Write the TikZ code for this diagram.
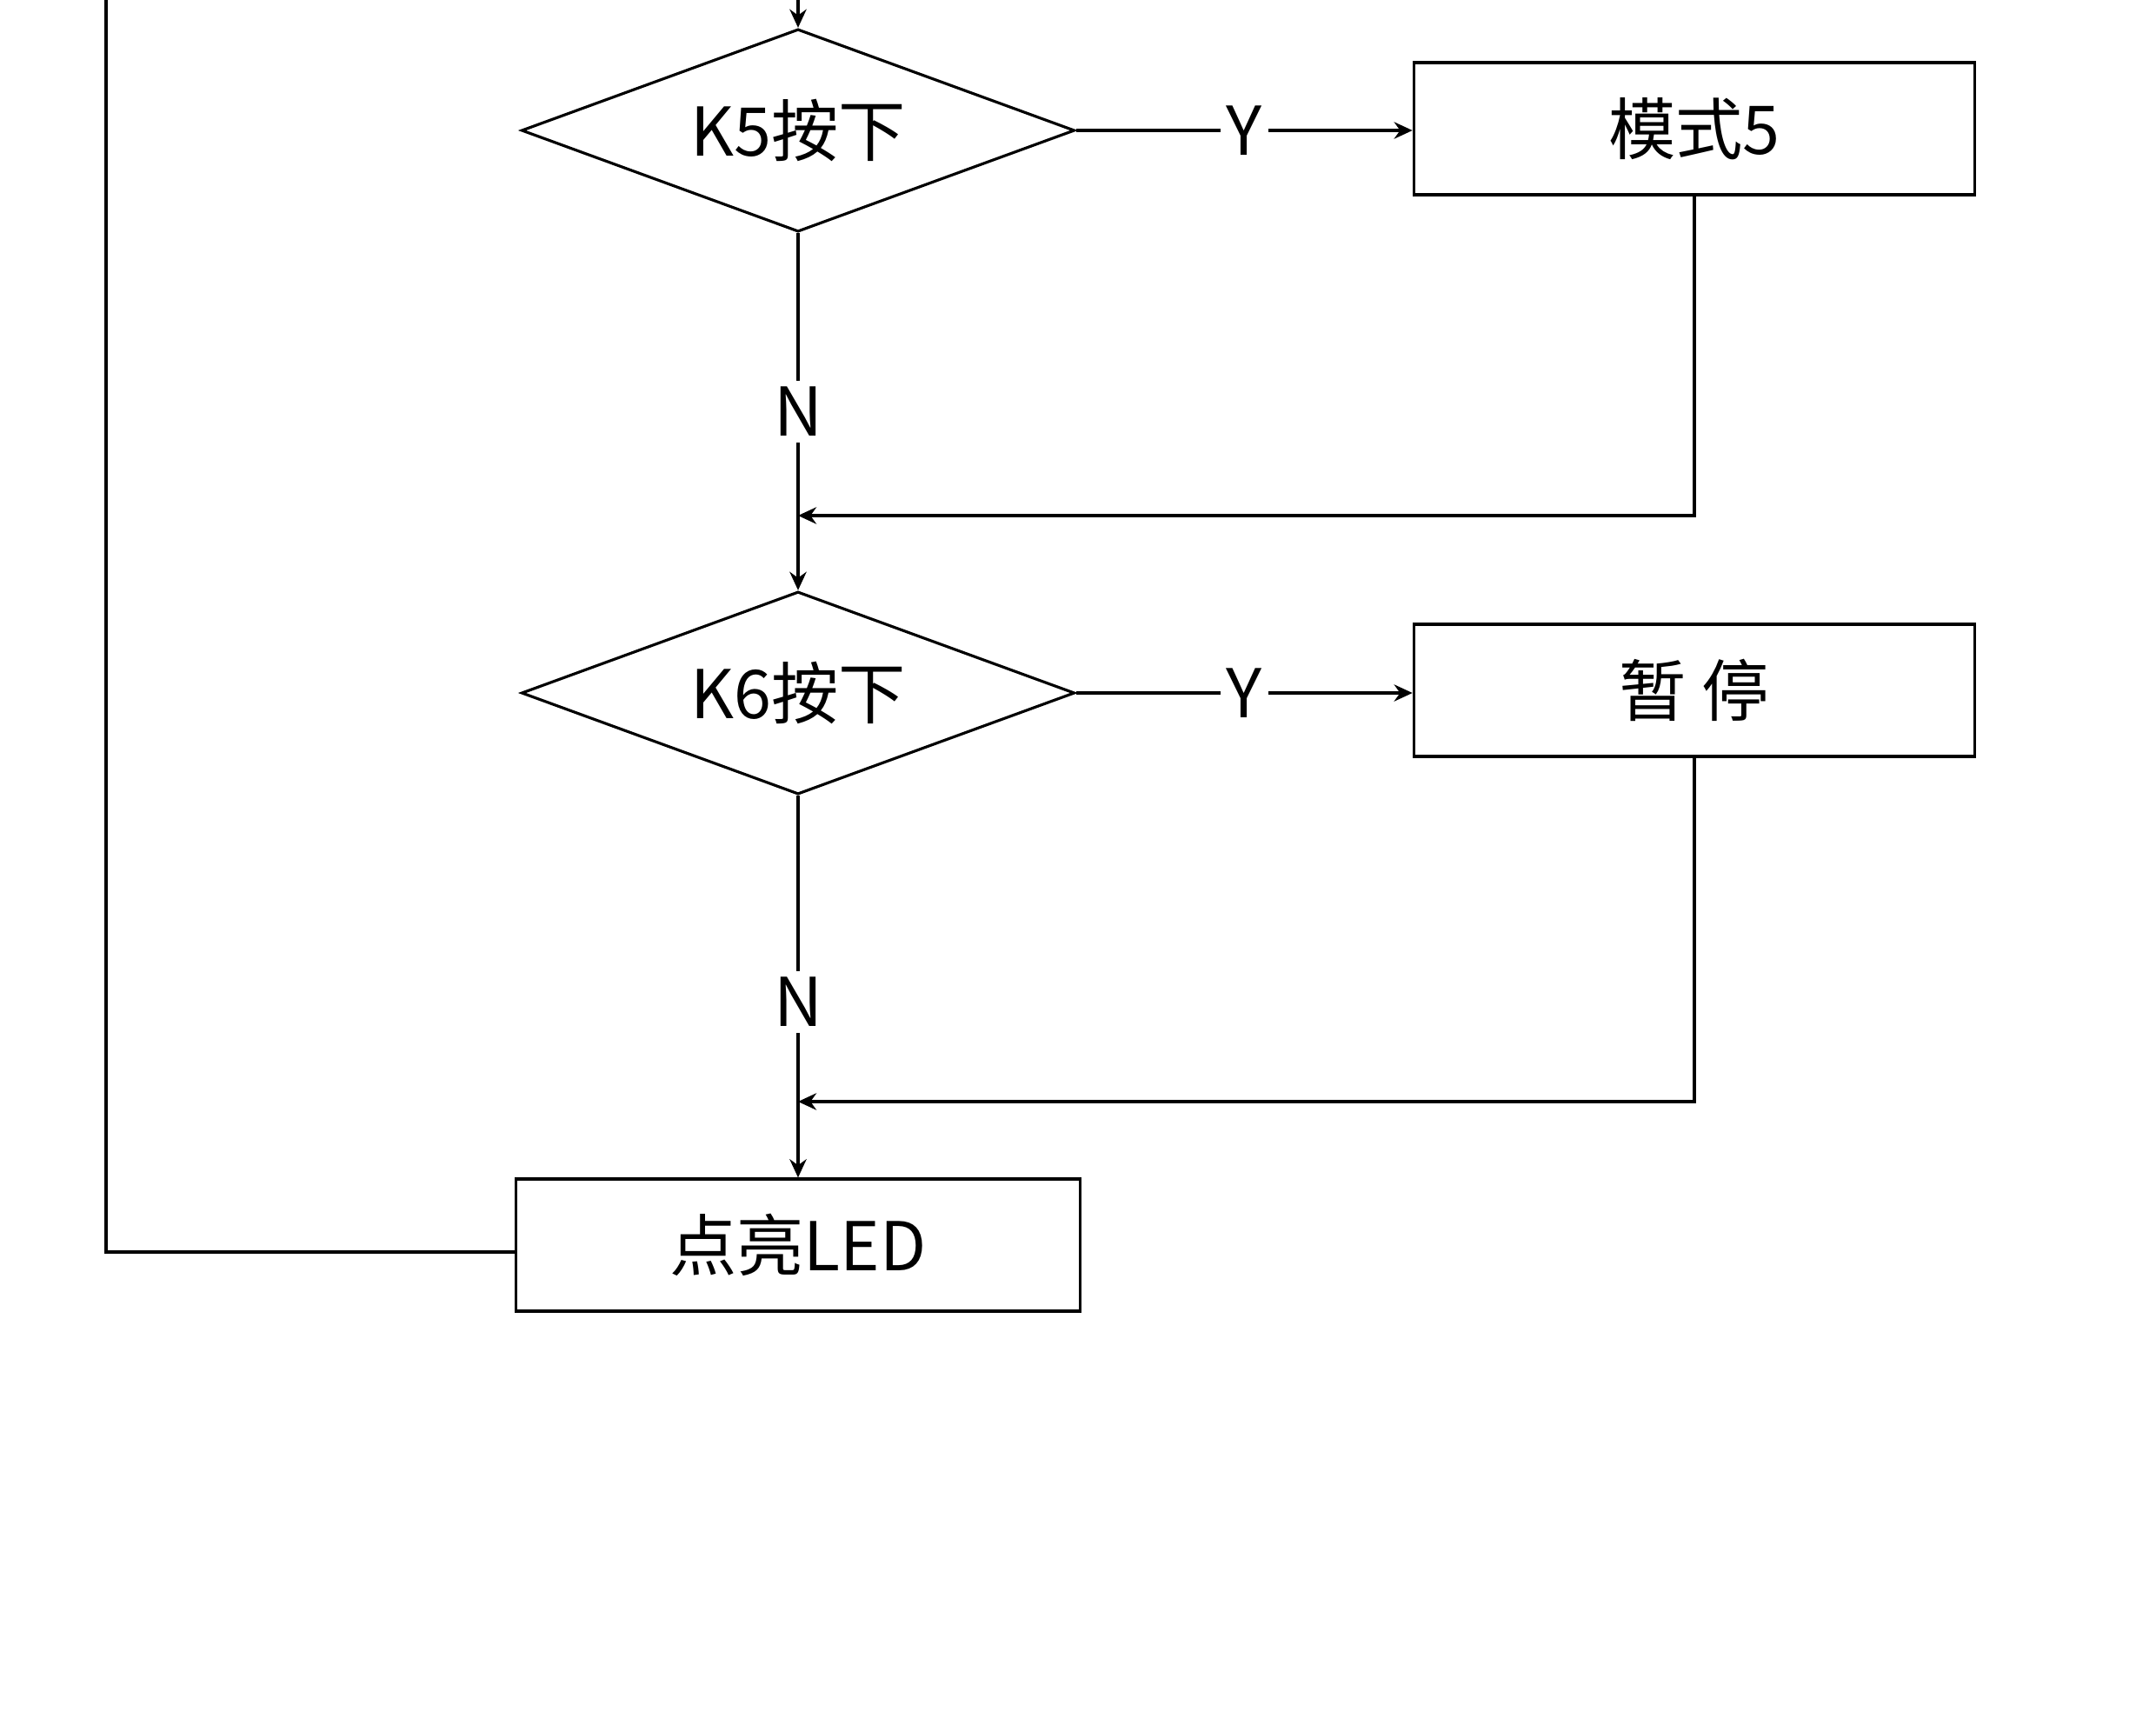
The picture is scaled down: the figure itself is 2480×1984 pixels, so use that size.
\documentclass[tikz,border=0pt]{standalone}
\usepackage{fontspec}
\setmainfont{Noto Sans CJK SC}
\usetikzlibrary{shapes.geometric,arrows.meta}

\begin{document}
\begin{tikzpicture}[x=0.01cm,y=-0.01cm,
    >={Stealth[length=6pt,width=5.5pt]},
    line width=0.9pt,
    font=\fontsize{22}{26}\selectfont,
    decision/.style={shape=diamond,draw,aspect=2.75,
      minimum width=6.36cm,minimum height=2.33cm,inner sep=0pt},
    process/.style={shape=rectangle,draw,
      minimum width=6.45cm,minimum height=1.52cm,inner sep=0pt},
    branch/.style={fill=white,inner sep=2pt}]

    \useasboundingbox (0,0) rectangle (2480,1984);

    \node[decision] (K5) at (918,150) {K5按下};
    \node[process] (M5) at (1949,148) {模式5};
    \node[decision] (K6) at (918,797) {K6按下};
    \node[process] (P6) at (1949,794) {暂 停};
    \node[process,minimum width=6.49cm] (LED) at (918,1432) {点亮LED};
    \coordinate (in) at (918,0);
    \coordinate (loop) at (122,0);
    \coordinate (back) at (122,1440);
    \coordinate (J5) at (918,593);
    \coordinate (J6) at (918,1267);

    \draw[->] (in) -- (K5);
    \draw (K5.east) edge[->] node[branch] {Y} (K5.east -| M5.west);
    \draw (K5) edge[->] node[branch] {N} (K6);
    \draw[->] (M5) |- (J5);
    \draw (K6.east) edge[->] node[branch] {Y} (K6.east -| P6.west);
    \draw (K6) edge[->] node[branch,pos=0.54] {N} (LED);
    \draw[->] (P6) |- (J6);
    \draw (LED.west |- back) -- (back) -- (loop);
\end{tikzpicture}
\end{document}
